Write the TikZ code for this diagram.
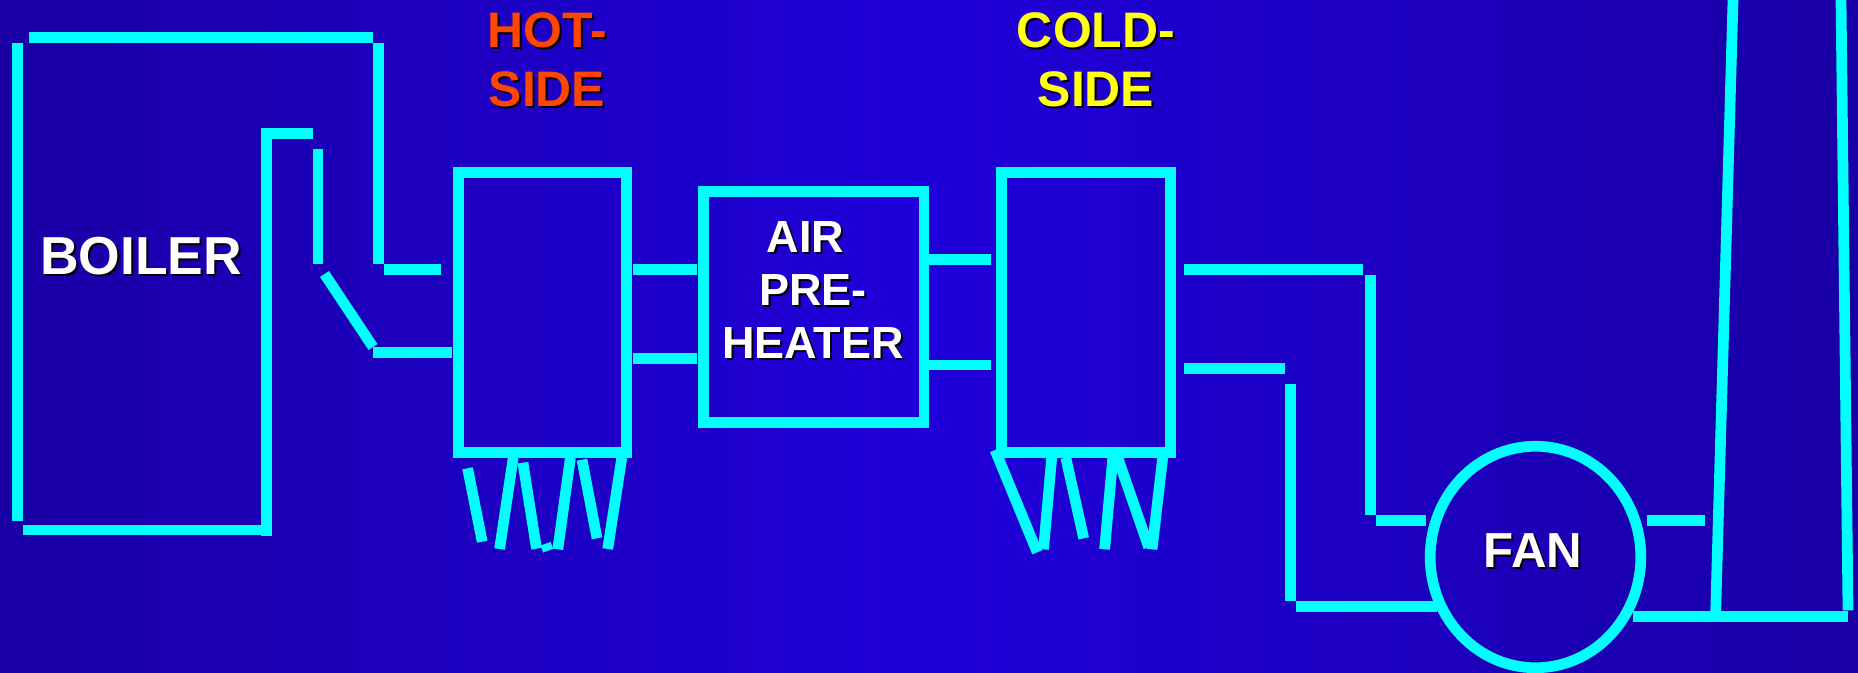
\documentclass[tikz,border=0pt]{standalone}
\usepackage{fontspec}
\setmainfont{Liberation Sans}
\usepackage{xcolor}
\usetikzlibrary{shapes.geometric}
\definecolor{slidedark}{RGB}{25,0,165}
\definecolor{slidelight}{RGB}{32,0,218}
\definecolor{pipecyan}{RGB}{0,255,255}
\definecolor{hotorange}{RGB}{255,70,0}
\definecolor{coldyellow}{RGB}{255,255,20}
\newcommand{\dropped}[1]{\leavevmode\rlap{\kern0.02cm\raisebox{-0.02cm}{\color{black}#1}}#1}

\begin{document}
\begin{tikzpicture}[
    x=0.01cm,
    y=-0.01cm,
    pipe/.style={
        draw=pipecyan,
        line width=3.05pt
    },
    unitbox/.style={
        rectangle,
        draw=pipecyan,
        inner sep=0pt,
        line width=3.05pt
    },
    fanshape/.style={
        ellipse,
        draw=pipecyan,
        inner sep=0pt,
        minimum width=2.105cm,
        minimum height=2.214cm,
        line width=3.05pt
    },
    namelabel/.style={
        text=white,
        align=center,
        inner sep=0pt,
        font=\bfseries\fontsize{15.2}{18}\selectfont
    },
    airlabel/.style={
        text=white,
        align=center,
        inner sep=0pt,
        font=\bfseries\fontsize{12.8}{15.2}\selectfont
    },
    sidelabel/.style={
        align=center,
        inner sep=0pt,
        font=\bfseries\fontsize{14.2}{16.8}\selectfont
    }
]

% Background
\useasboundingbox (0,0) rectangle (1858,673);
\shade[left color=slidedark,right color=slidedark,middle color=slidelight] (0,0) rectangle (1858,673);

% Boiler
\draw[pipe] (17.4,43.3) -- (17.4,521);
\draw[pipe] (29,37.8) -- (373,37.8);
\draw[pipe] (378.6,43.3) -- (378.6,263.7);
\draw[pipe] (384,269.5) -- (441,269.5);
\draw[pipe] (266.8,128) -- (266.8,535.6);
\draw[pipe] (22.5,530) -- (262,530);
\draw[pipe] (272,133.5) -- (313,133.5);
\draw[pipe] (318,149) -- (318,263.7);
\draw[pipe] (324.5,274) -- (373,347);
\draw[pipe] (373,352.5) -- (451.5,352.5);
\node[namelabel] (boiler) at (141,257) {\dropped{BOILER}};

% Three main boxes
\node[unitbox,minimum width=1.682cm,minimum height=2.8cm] (hotside) at (542.3,312.3) {};
\node[unitbox,minimum width=2.203cm,minimum height=2.306cm] (airheater) at (813.65,307) {};
\node[unitbox,minimum width=1.687cm,minimum height=2.8cm] (coldside) at (1086,312.3) {};

% Titles
\node[sidelabel,text=hotorange] (hotlabel) at (547,61) {\dropped{HOT-}\\\dropped{SIDE}};
\node[sidelabel,text=coldyellow] (coldlabel) at (1096,61) {\dropped{COLD-}\\\dropped{SIDE}};
\node[airlabel] (airtext) at (813,291) {\dropped{AIR}\phantom{-}\\\dropped{PRE-}\\\dropped{HEATER}};

% Ducts between the boxes
\draw[pipe] (633.4,269.5) -- (696.6,269.5);
\draw[pipe] (633.4,358.3) -- (696.6,358.3);
\draw[pipe] (929,259.7) -- (991,259.7);
\draw[pipe] (929,365) -- (991,365);

% Hot side fins
\draw[pipe] (467.6,468.3) -- (482.2,541.7);
\draw[pipe] (513.2,457.7) -- (499.6,549);
\draw[pipe] (522.9,462.7) -- (536.5,548.7);
\draw[pipe] (545.6,543.7) -- (548.1,550.7);
\draw[pipe] (570.4,457.7) -- (557.8,549.3);
\draw[pipe] (582,459.7) -- (597,538.3);
\draw[pipe] (621.8,457.7) -- (607.7,549);

% Cold side fins
\draw[pipe] (995,450) -- (1037.2,552.3);
\draw[pipe] (1051.7,457.7) -- (1043.5,549.3);
\draw[pipe] (1065.8,457.7) -- (1083.7,538.3);
\draw[pipe] (1112.8,457.7) -- (1104.6,549.3);
\draw[pipe] (1117.7,457.7) -- (1148.7,547.3);
\draw[pipe] (1162.7,457.7) -- (1152,549.3);

% Ducts to the fan
\draw[pipe] (1184,269.5) -- (1363,269.5);
\draw[pipe] (1370.8,275) -- (1370.8,515);
\draw[pipe] (1376,520.3) -- (1426.3,520.3);
\draw[pipe] (1184,368.5) -- (1285.4,368.5);
\draw[pipe] (1290.8,383.7) -- (1290.8,601.3);
\draw[pipe] (1296,606.7) -- (1436.7,606.7);

% Fan
\node[fanshape] (fan) at (1535.5,557) {};
\node[namelabel,font=\bfseries\fontsize{14}{17}\selectfont] (fantext) at (1533,551.5) {\dropped{FAN}};

% Stack
\draw[pipe] (1647,520.3) -- (1705,520.3);
\draw[pipe] (1733,0) -- (1715.7,611);
\draw[pipe] (1841,0) -- (1848,610.3);
\draw[pipe] (1632.6,616.3) -- (1848.4,616.3);

\end{tikzpicture}
\end{document}
